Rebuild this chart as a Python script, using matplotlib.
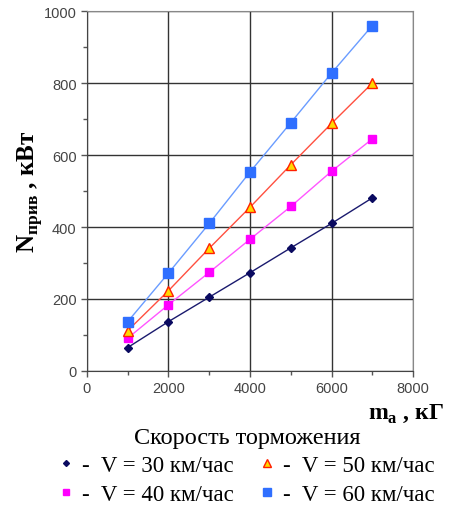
import matplotlib
matplotlib.use("Agg")
import matplotlib.pyplot as plt
from matplotlib.lines import Line2D

# braking power vs. mass for several braking speeds
mass = [1000, 2000, 3000, 4000, 5000, 6000, 7000]
n_30 = [65, 137, 205, 273, 342, 410, 481]
n_40 = [91, 184, 274, 366, 457, 555, 645]
n_50 = [112, 223, 341, 455, 573, 688, 800]
n_60 = [137, 272, 410, 553, 690, 828, 960]
labels = ["-  V = 30 км/час", "-  V = 40 км/час", "-  V = 50 км/час", "-  V = 60 км/час"]

plt.rcParams['mathtext.fontset'] = 'custom'
plt.rcParams['mathtext.rm'] = 'Liberation Serif'
plt.rcParams['mathtext.bf'] = 'Liberation Serif:bold'

fig = plt.figure(figsize=(4.7, 5.06), dpi=100)
ax = fig.add_axes([0.185, 0.265, 0.694, 0.711])

styles = [
    dict(color='#1a1a6e', marker='D', ms=4, mfc='#0a0a60', mec='#0a0a60'),
    dict(color='#ff55ff', marker='s', ms=6, mfc='#ff00ff', mec='#ff00ff'),
    dict(color='#ff5040', marker='^', ms=7, mfc='#ffd800', mec='#ff2000'),
    dict(color='#6a9cff', marker='s', ms=7, mfc='#2f6fff', mec='#2f6fff'),
]
series = [n_30, n_40, n_50, n_60]
handles = []
for vals, st, lab in zip(series, styles, labels):
    ax.plot(mass, vals, lw=1, color=st['color'], marker=st['marker'], ms=st['ms'],
            mfc=st['mfc'], mec=st['mec'], zorder=3)
    handles.append(Line2D([], [], ls='none', marker=st['marker'], ms=st['ms'] - 1,
                          mfc=st['mfc'], mec=st['mec'], label=lab))

ax.set_xlim(0, 8000)
ax.set_ylim(0, 1000)
ax.set_xticks([0, 2000, 4000, 6000, 8000])
ax.set_xticks([1000, 3000, 5000, 7000], minor=True)
ax.set_yticks([0, 200, 400, 600, 800, 1000])
ax.set_yticks([100, 300, 500, 700, 900], minor=True)
ax.grid(True, which='major', color='#333333', lw=1)
ax.tick_params(which='both', direction='out', colors='#555555', labelsize=10.5, length=4, width=1)
ax.tick_params(which='minor', length=3)
for lbl in ax.get_xticklabels() + ax.get_yticklabels():
    lbl.set_fontfamily('Liberation Sans')
    lbl.set_color('#444444')
for side in ['left', 'bottom']:
    ax.spines[side].set_color('#444444')
for side in ['top', 'right']:
    ax.spines[side].set_color('#888888')

fig.text(0.064, 0.62, r"$\mathbf{N}_{\mathbf{прив}}$ , кВт", rotation=90, ha='center', va='center',
         fontsize=18, fontweight='bold', family='Liberation Serif')
fig.text(0.945, 0.183, r"$\mathbf{m}_{\mathbf{a}}$ , кГ", ha='right', va='center',
         fontsize=17, fontweight='bold', family='Liberation Serif')

leg = fig.legend(handles=handles, ncol=2, loc='upper center', bbox_to_anchor=(0.526, 0.186),
                 frameon=False, title="Скорость торможения", handlelength=0.6, handletextpad=0.4,
                 columnspacing=1.15, labelspacing=0.32, borderpad=0.2,
                 prop={'family': 'Liberation Serif', 'size': 16.5})
leg.get_title().set_fontfamily('Liberation Serif')
leg.get_title().set_fontsize(17.5)

fig.savefig("out.png", dpi=100)
